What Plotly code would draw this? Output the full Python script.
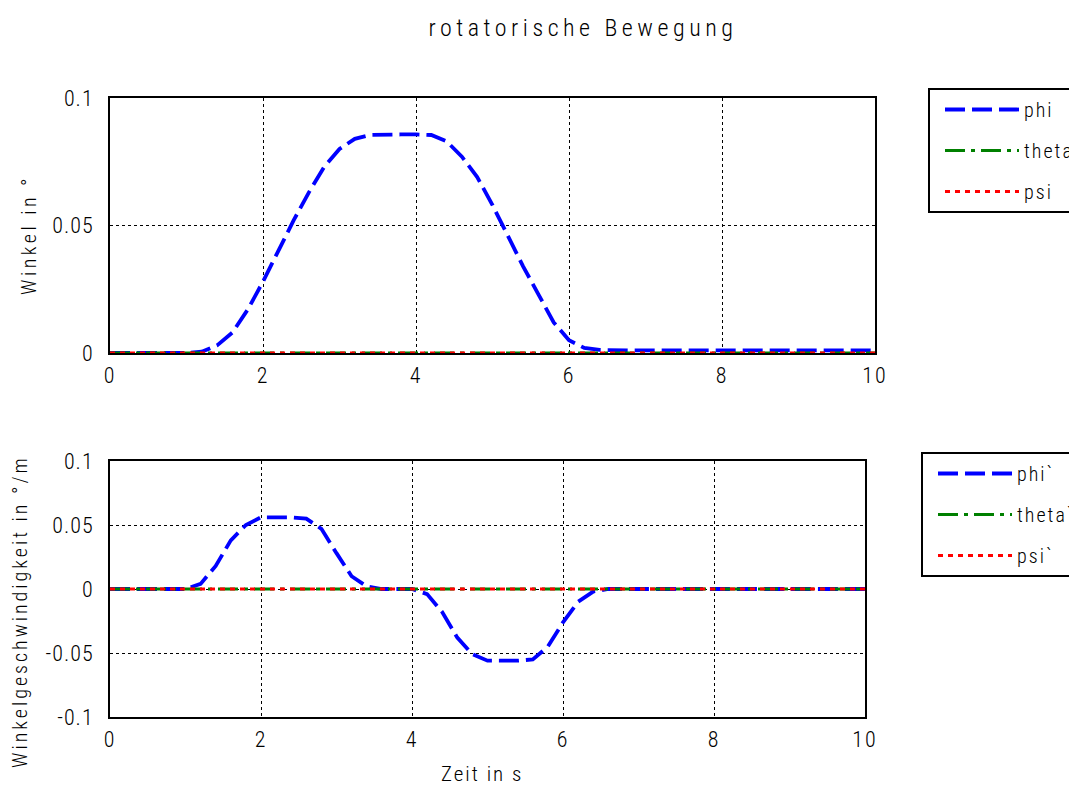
import plotly.graph_objects as go

# ---- data ----
t = [round(i * 0.2, 1) for i in range(51)]
phi = ([0.0] * 6 +
       [0.0005, 0.003, 0.008, 0.017, 0.028, 0.040, 0.052, 0.063, 0.073, 0.080,
        0.084, 0.0855, 0.0857, 0.0857, 0.0857, 0.0855, 0.083, 0.077, 0.069, 0.058,
        0.046, 0.034, 0.023, 0.012, 0.005, 0.002, 0.0012] +
       [0.001] * 18)
theta = [0.0] * 51
psi = [0.0] * 51

phi_dot = ([0.0] * 6 +
           [0.004, 0.018, 0.038, 0.050, 0.056, 0.056, 0.056, 0.055, 0.047, 0.028,
            0.010, 0.002, 0.0, 0.0, 0.0, -0.004, -0.018, -0.038, -0.051, -0.056,
            -0.056, -0.056, -0.055, -0.045, -0.026, -0.010, -0.002] +
           [0.0] * 18)
theta_dot = [0.0] * 51
psi_dot = [0.0] * 51

x_ticks = [0, 2, 4, 6, 8, 10]
x_labels = ["0", "2", "4", "6", "8", "10"]
y1_ticks = [0, 0.05, 0.1]
y1_labels = ["0", "0.05", "0.1"]
y2_ticks = [-0.1, -0.05, 0, 0.05, 0.1]
y2_labels = ["-0.1", "-0.05", "0", "0.05", "0.1"]

names_top = ["phi", "theta", "psi"]
names_bot = ["phi`", "theta`", "psi`"]
title_text = "rotatorische Bewegung"
y1_title = "Winkel in °"
y2_title = "Winkelgeschwindigkeit in °/m"
x_title = "Zeit in s"

FONT = "Roboto Condensed, Liberation Sans Narrow, DejaVu Sans Condensed, sans-serif"
W, H = 1077, 789
OFF = 8  # page offset of the figure inside the browser window


def sp(s, ls):
    return f"<span style='letter-spacing:{ls}px'>{s}</span>"


def fx(px):
    return (px - OFF) / W


def fy(py):
    return 1 - (py - OFF) / H


styles = [
    dict(color="#0000ff", width=3.8, dash="20px,7px"),
    dict(color="#008000", width=3, dash="20px,6px,4px,6px"),
    dict(color="#ff0000", width=3, dash="5px,5px"),
]

fig = go.Figure()
for i, (y, n) in enumerate(zip([phi, theta, psi], names_top)):
    fig.add_trace(go.Scatter(x=t, y=y, mode="lines", name=sp(n, 2), line=styles[i],
                             xaxis="x", yaxis="y", legend="legend", legendgroup=f"a{i}"))
for i, (y, n) in enumerate(zip([phi_dot, theta_dot, psi_dot], names_bot)):
    fig.add_trace(go.Scatter(x=t, y=y, mode="lines", name=sp(n, 2), line=styles[i],
                             xaxis="x2", yaxis="y2", legend="legend2", legendgroup=f"b{i}"))

TXT = dict(family=FONT, color="black", weight=300)
axis_common = dict(showline=True, linecolor="black", linewidth=2, mirror=True,
                   showgrid=True, gridcolor="black", gridwidth=1, griddash="dot",
                   zeroline=False, ticks="", automargin=False, tickfont=dict(size=22, **TXT))
legend_common = dict(xanchor="left", yanchor="top", bordercolor="black", borderwidth=2,
                     bgcolor="white", font=dict(size=20, **TXT),
                     tracegroupgap=12, itemwidth=74, indentation=10, traceorder="grouped")

fig.update_layout(
    width=W, height=H,
    paper_bgcolor="white", plot_bgcolor="white",
    margin=dict(l=0, r=0, t=0, b=0, autoexpand=False),
    font=dict(family=FONT, color="black"),
    title=dict(text=sp(title_text, 4.5), x=fx(583), xanchor="center", y=fy(28), yanchor="middle",
               font=dict(size=24, **TXT)),
    xaxis=dict(domain=[fx(110), fx(875)], range=[0, 10], anchor="y",
               tickvals=x_ticks, ticktext=[sp(s, 2) for s in x_labels], ticklabelstandoff=2,
               **axis_common),
    yaxis=dict(domain=[fy(353), fy(98)], range=[0, 0.1], anchor="x",
               tickvals=y1_ticks, ticktext=[sp(s, 1) for s in y1_labels], ticklabelstandoff=10,
               **axis_common),
    xaxis2=dict(domain=[fx(110), fx(865)], range=[0, 10], anchor="y2",
                tickvals=x_ticks, ticktext=[sp(s, 2) for s in x_labels], ticklabelstandoff=2,
                **axis_common),
    yaxis2=dict(domain=[fy(717), fy(461)], range=[-0.1, 0.1], anchor="x2",
                tickvals=y2_ticks, ticktext=[sp(s, 1) for s in y2_labels], ticklabelstandoff=10,
                **axis_common),
    legend=dict(x=fx(928), y=fy(88), **legend_common),
    legend2=dict(x=fx(921), y=fy(452), **legend_common),
    annotations=[
        dict(text=sp(y1_title, 3.5), textangle=-90, x=fx(29), y=fy(235), xref="paper", yref="paper",
             xanchor="center", yanchor="middle", showarrow=False, font=dict(size=20, **TXT)),
        dict(text=sp(y2_title, 3), textangle=-90, x=fx(20), y=fy(612), xref="paper", yref="paper",
             xanchor="center", yanchor="middle", showarrow=False, font=dict(size=20, **TXT)),
        dict(text=sp(x_title, 2), x=fx(482), y=fy(774), xref="paper", yref="paper",
             xanchor="center", yanchor="middle", showarrow=False, font=dict(size=21, **TXT)),
    ],
)

fig.write_html("out.html")
